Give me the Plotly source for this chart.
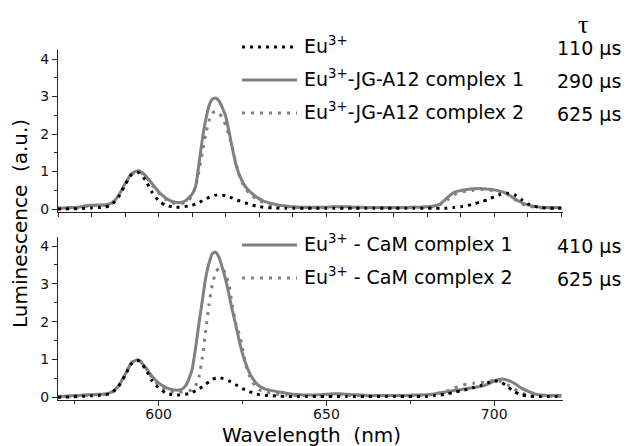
import plotly.graph_objects as go

# Wavelength grid (nm): 2 nm steps, 1 nm steps across the 617 nm band
wavelength = ([570, 572, 574, 576, 578, 580, 582, 584, 586, 588, 590, 592, 594, 596, 598, 600, 602, 604]
              + list(range(605, 633))
              + list(range(634, 721, 2)))

# Upper panel: Eu3+ and Eu3+-JG-A12 complexes
top_eu = [0.00, 0.00, 0.01, 0.01, 0.02, 0.03, 0.04, 0.05, 0.12, 0.32, 0.65, 0.92, 0.97, 0.78, 0.45, 0.22, 0.10, 0.06,
          0.05, 0.05, 0.06, 0.07, 0.08, 0.10, 0.13, 0.17, 0.22, 0.27, 0.31, 0.35, 0.37, 0.38, 0.37, 0.35, 0.32, 0.29,
          0.25, 0.22, 0.19, 0.16, 0.13, 0.10, 0.08, 0.06, 0.05, 0.04,
          0.03, 0.02, 0.02, 0.02, 0.02, 0.02, 0.02, 0.02, 0.02, 0.02, 0.02, 0.02, 0.02, 0.02, 0.02, 0.02, 0.02, 0.02,
          0.02, 0.02, 0.02, 0.02, 0.02, 0.02, 0.02, 0.02, 0.02, 0.04, 0.06, 0.09, 0.14, 0.19, 0.25, 0.33, 0.39, 0.42,
          0.38, 0.26, 0.14, 0.07, 0.04, 0.02, 0.02, 0.02, 0.02]
top_c1 = [0.03, 0.03, 0.04, 0.05, 0.08, 0.10, 0.11, 0.11, 0.16, 0.35, 0.68, 0.95, 1.02, 0.90, 0.68, 0.46, 0.30, 0.20,
          0.18, 0.17, 0.18, 0.22, 0.30, 0.40, 0.60, 1.20, 1.85, 2.37, 2.75, 2.93, 2.96, 2.88, 2.70, 2.46, 2.05, 1.60,
          1.20, 0.92, 0.72, 0.58, 0.48, 0.40, 0.33, 0.27, 0.22, 0.19,
          0.14, 0.10, 0.08, 0.06, 0.05, 0.05, 0.05, 0.05, 0.05, 0.06, 0.06, 0.06, 0.05, 0.05, 0.04, 0.04, 0.04, 0.04,
          0.04, 0.04, 0.04, 0.05, 0.05, 0.06, 0.08, 0.14, 0.30, 0.44, 0.49, 0.52, 0.54, 0.55, 0.53, 0.51, 0.47, 0.40,
          0.28, 0.18, 0.11, 0.07, 0.05, 0.04, 0.04, 0.04, 0.04]
top_c2 = [0.02, 0.02, 0.03, 0.04, 0.07, 0.09, 0.10, 0.10, 0.15, 0.33, 0.66, 0.93, 1.00, 0.88, 0.64, 0.42, 0.26, 0.17,
          0.15, 0.14, 0.15, 0.18, 0.24, 0.36, 0.60, 1.00, 1.50, 1.98, 2.35, 2.56, 2.60, 2.56, 2.42, 2.22, 1.95, 1.60,
          1.22, 0.90, 0.68, 0.53, 0.42, 0.34, 0.27, 0.22, 0.18, 0.15,
          0.11, 0.08, 0.06, 0.05, 0.04, 0.04, 0.04, 0.04, 0.04, 0.05, 0.05, 0.05, 0.04, 0.04, 0.04, 0.04, 0.04, 0.04,
          0.04, 0.04, 0.04, 0.04, 0.04, 0.05, 0.07, 0.12, 0.24, 0.38, 0.45, 0.48, 0.50, 0.52, 0.51, 0.49, 0.45, 0.38,
          0.26, 0.15, 0.08, 0.05, 0.03, 0.03, 0.03, 0.03, 0.03]

# Lower panel: Eu3+ and Eu3+-CaM complexes
bot_eu = [0.00, 0.01, 0.01, 0.02, 0.03, 0.04, 0.05, 0.06, 0.12, 0.28, 0.58, 0.90, 0.97, 0.76, 0.45, 0.25, 0.12, 0.07,
          0.06, 0.06, 0.07, 0.08, 0.10, 0.13, 0.17, 0.22, 0.28, 0.35, 0.41, 0.47, 0.51, 0.52, 0.50, 0.47, 0.43, 0.38,
          0.33, 0.28, 0.23, 0.19, 0.15, 0.12, 0.09, 0.07, 0.06, 0.05,
          0.04, 0.03, 0.02, 0.02, 0.02, 0.02, 0.02, 0.02, 0.02, 0.02, 0.02, 0.02, 0.02, 0.02, 0.02, 0.02, 0.02, 0.02,
          0.02, 0.02, 0.02, 0.02, 0.02, 0.02, 0.04, 0.06, 0.09, 0.13, 0.17, 0.21, 0.26, 0.31, 0.38, 0.44, 0.40, 0.28,
          0.15, 0.07, 0.03, 0.02, 0.02, 0.02, 0.02, 0.02, 0.02]
bot_c1 = [0.02, 0.03, 0.04, 0.05, 0.06, 0.07, 0.08, 0.09, 0.14, 0.30, 0.60, 0.92, 0.99, 0.80, 0.56, 0.38, 0.26, 0.20,
          0.19, 0.19, 0.22, 0.30, 0.48, 0.75, 1.30, 1.95, 2.55, 3.15, 3.55, 3.80, 3.84, 3.70, 3.42, 3.10, 2.70, 2.28,
          1.90, 1.50, 1.15, 0.88, 0.66, 0.50, 0.38, 0.30, 0.25, 0.21,
          0.17, 0.14, 0.11, 0.08, 0.07, 0.06, 0.06, 0.07, 0.08, 0.09, 0.09, 0.08, 0.07, 0.06, 0.05, 0.05, 0.05, 0.05,
          0.05, 0.05, 0.05, 0.06, 0.06, 0.07, 0.09, 0.12, 0.15, 0.18, 0.20, 0.23, 0.26, 0.29, 0.34, 0.43, 0.48, 0.45,
          0.37, 0.25, 0.16, 0.09, 0.06, 0.05, 0.05, 0.05, 0.05]
bot_c2 = [0.01, 0.02, 0.03, 0.04, 0.05, 0.06, 0.07, 0.08, 0.13, 0.29, 0.60, 0.92, 0.99, 0.80, 0.52, 0.32, 0.20, 0.15,
          0.14, 0.14, 0.14, 0.15, 0.17, 0.20, 0.30, 0.55, 1.05, 1.75, 2.45, 2.98, 3.30, 3.42, 3.40, 3.25, 2.95, 2.40,
          1.95, 1.68, 1.30, 0.85, 0.58, 0.40, 0.28, 0.20, 0.16, 0.13,
          0.10, 0.08, 0.06, 0.05, 0.05, 0.05, 0.05, 0.05, 0.05, 0.06, 0.06, 0.06, 0.05, 0.05, 0.05, 0.05, 0.05, 0.05,
          0.05, 0.05, 0.05, 0.05, 0.06, 0.06, 0.08, 0.12, 0.17, 0.24, 0.31, 0.35, 0.37, 0.39, 0.41, 0.45, 0.42, 0.33,
          0.22, 0.12, 0.06, 0.04, 0.03, 0.03, 0.03, 0.03, 0.03]

# Legend labels and lifetimes
top_labels = ["Eu<sup>3+</sup>", "Eu<sup>3+</sup>-JG-A12 complex 1", "Eu<sup>3+</sup>-JG-A12 complex 2"]
top_tau = ["110 \u03bcs", "290 \u03bcs", "625 \u03bcs"]
bot_labels = ["Eu<sup>3+</sup> - CaM complex 1", "Eu<sup>3+</sup> - CaM complex 2"]
bot_tau = ["410 \u03bcs", "625 \u03bcs"]

W, H = 629, 446
GRAY = "#808080"
FONT = "DejaVu Sans, Arial, sans-serif"

solid_gray = dict(color=GRAY, width=3)
dot_gray = dict(color=GRAY, width=3, dash="3px,6px")
dot_black = dict(color="black", width=3, dash="3px,5px")


def px(x, y):
    return x / W, 1 - y / H


fig = go.Figure()
for series, line, ax in [
    (top_c1, solid_gray, ("x2", "y2")),
    (top_c2, dot_gray, ("x2", "y2")),
    (top_eu, dot_black, ("x2", "y2")),
    (bot_c1, solid_gray, ("x", "y")),
    (bot_c2, dot_gray, ("x", "y")),
    (bot_eu, dot_black, ("x", "y")),
]:
    fig.add_trace(go.Scatter(x=wavelength, y=series, mode="lines", line=dict(line, shape="spline", smoothing=0.6),
                             xaxis=ax[0], yaxis=ax[1], showlegend=False, hoverinfo="skip"))

xdom = [58 / W, 563 / W]
axis_common = dict(showline=True, linecolor="#222", linewidth=1.3, ticks="outside", tickcolor="#222",
                   tickwidth=1, showgrid=False, zeroline=False, automargin=False,
                   tickfont=dict(family=FONT, size=14, color="#111"))
yaxis_common = dict(axis_common, range=[-0.08, 4.24], dtick=1, tick0=0, ticklen=5,
                    minor=dict(dtick=0.5, tick0=0, ticklen=3, ticks="outside", tickcolor="#222"))

fig.update_layout(
    width=W, height=H, margin=dict(l=0, r=0, t=0, b=0, autoexpand=False),
    paper_bgcolor="white", plot_bgcolor="white",
    xaxis=dict(axis_common, domain=xdom, anchor="y", range=[570, 720.5], tick0=600, dtick=50, ticklen=5,
               ticklabelstandoff=-4,
               minor=dict(dtick=25, tick0=575, ticklen=3, ticks="outside", tickcolor="#222")),
    yaxis=dict(yaxis_common, domain=[1 - 400.3 / H, 1 - 237 / H], anchor="x"),
    xaxis2=dict(axis_common, domain=xdom, anchor="y2", range=[570, 720.5], tick0=570, dtick=10, ticklen=4,
                showticklabels=False, matches="x"),
    yaxis2=dict(yaxis_common, domain=[1 - 212 / H, 1 - 50 / H], anchor="x2"),
)

annotations = []
shapes = []


def note(xpx, ypx, text, size, xanchor="center", family=FONT, angle=0):
    x, y = px(xpx, ypx)
    annotations.append(dict(x=x, y=y, xref="paper", yref="paper", text=text, xanchor=xanchor, yanchor="middle",
                            textangle=angle, showarrow=False, font=dict(family=family, size=size, color="black")))


# Axis titles
note(20, 224, "Luminescence\u00a0\u00a0(a.u.)", 20, angle=-90)
note(311, 435, "Wavelength\u00a0\u00a0(nm)", 20)

# Lifetime column header
note(583, 24, "\u03c4", 26, family="Liberation Serif, serif")


# Legend rows
def legend_row(ypx, line, label, tau):
    x0, yy = px(242, ypx)
    x1, _ = px(297, ypx)
    shapes.append(dict(type="line", xref="paper", yref="paper", x0=x0, x1=x1, y0=yy, y1=yy,
                       line=dict(color=line["color"], width=line["width"], dash=line.get("dash", "solid"))))
    note(302, ypx - 2, label, 19, xanchor="left")
    note(623, ypx + 1, tau, 19, xanchor="right")


for ypx, line, label, tau in zip([47, 80, 113], [dot_black, solid_gray, dot_gray], top_labels, top_tau):
    legend_row(ypx, line, label, tau)
for ypx, line, label, tau in zip([245, 278], [solid_gray, dot_gray], bot_labels, bot_tau):
    legend_row(ypx, line, label, tau)

fig.update_layout(annotations=annotations, shapes=shapes)
fig.write_html("out.html")
